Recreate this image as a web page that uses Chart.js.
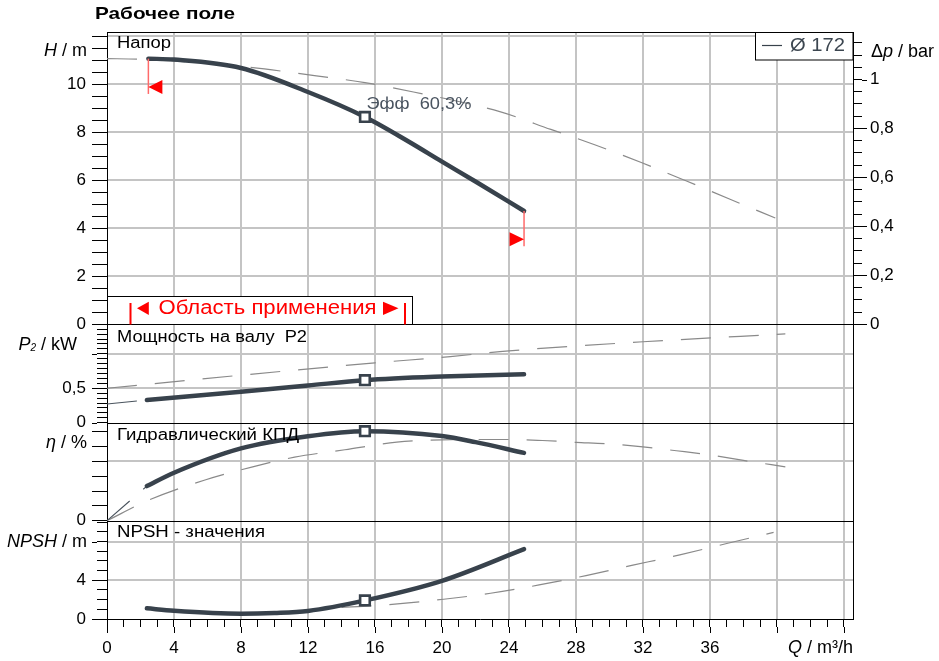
<!DOCTYPE html>
<html lang="ru">
<head>
<meta charset="utf-8">
<title>Рабочее поле – Ø 172</title>
<script src="https://cdn.jsdelivr.net/npm/chart.js"></script>
<style>
  html,body{margin:0;padding:0;background:#fff;overflow:hidden;}
  canvas{display:block;}
</style>
</head>
<body>
<canvas id="pump" width="939" height="661"></canvas>
<script>
/* ── 1. Curve data (Q in m³/h) ────────────────────────────────── */
const headQ    = [2.47, 4, 8, 12, 15.4, 18, 20, 22, 24.9];
const headH    = [11.07, 11.03, 10.68, 9.68, 8.64, 7.62, 6.78, 5.95, 4.72];
const headRefQ = [0, 1.8, 8, 12.5, 15.4, 18.3, 23.5, 26.5, 29.2, 31.9, 34.6, 37.2, 39.9];
const headRefH = [11.07, 11.05, 10.75, 10.35, 10.07, 9.68, 8.85, 8.12, 7.46, 6.74, 5.97, 5.21, 4.43];

const powerQ    = [2.38, 8, 12, 15.4, 20, 24.9];
const powerP    = [0.33, 0.45, 0.54, 0.617, 0.67, 0.704];
const powerExtQ = [0, 2.38];
const powerExtP = [0.272, 0.33];
const powerRefQ = [0, 8, 16, 20.5, 24, 32, 40.5];
const powerRefP = [0.5, 0.69, 0.869, 0.96, 1.043, 1.175, 1.29];

const effQ    = [2.38, 4, 8, 12, 15.4, 20, 22, 24.9];
const effE    = [23.3, 32.3, 48.7, 56.9, 60.3, 57.0, 52.9, 45.7];
const effExtQ = [0, 2.38];
const effExtE = [0, 23.3];
const effRefQ = [0, 2.5, 5.85, 8.64, 11.2, 14.2, 17.3, 20, 22, 24, 26, 28, 30, 32, 34, 36, 38, 40.5];
const effRefE = [0, 13.9, 27.4, 36.1, 42.8, 47.8, 52.9, 54.5, 54.7, 54.7, 54.0, 52.8, 51.7, 49.7, 47.1, 44.3, 40.6, 36.3];

const npshQ    = [2.38, 4, 8, 10, 12, 15.4, 20, 24.9];
const npshN    = [1.1, 0.85, 0.55, 0.62, 0.83, 1.92, 3.95, 7.22];
const npshRefQ = [14, 15.8, 20.1, 22.9, 25.8, 28.6, 31.4, 34.2, 37, 39.8];
const npshRefN = [1.2, 1.35, 2.04, 2.66, 3.52, 4.49, 5.56, 6.63, 7.8, 8.95];

// duty point and application limits
const bepQ = 15.4;
const bepH = 8.64, bepP = 0.617, bepE = 60.3, bepN = 1.92;
const bepLabel  = 'Эфф  60,3%';
const limitQ    = [2.47, 24.9];
const limitTopH = [11.07, 4.72];
const limitTipH = [9.89, 3.54];

// tick labels and grid lines
const qTickLabels  = [0, 4, 8, 12, 16, 20, 24, 28, 32, 36];
const qGrid        = [4, 8, 12, 16, 20, 24, 28, 32, 36, 40, 44];
const hTickLabels  = [0, 2, 4, 6, 8, 10];
const hGrid        = [2, 4, 6, 8, 10, 12];
const pTickLabels  = [0, 0.5];
const pGrid        = [0.5, 1];
const eTickLabels  = [0];
const eGrid        = [40];
const nTickLabels  = [0, 4];
const nGrid        = [4, 8];
const dpTickLabels = [0, 0.2, 0.4, 0.6, 0.8, 1];

/* ── 2. Axis ranges / panel heights ──────────────────────────── */
const Q_MAX = 44.54;
const H_MAX = 12.18, P_MAX = 1.4286, E_MAX = 66, N_MAX = 10.16;
const panelPx = [292.3, 98.4, 98, 98.3];      // H, P2, eta, NPSH
const R_MAX = H_MAX / 10.2;                   // Δp in bar
const R_MIN = -R_MAX * (panelPx[1] + panelPx[2] + panelPx[3]) / panelPx[0];

const DARK = '#38424c', REF = '#8a8a8a', RED = '#ff0000', GRID = '#c4c4c4';
const FONT = '"Liberation Sans", Arial, sans-serif';
Chart.defaults.font.family = FONT;
Chart.defaults.font.size = 17;
Chart.defaults.color = '#000';

function range(a, b, step){
  const out = [];
  for(let i = 0; a + i*step <= b + 1e-9; i++) out.push(+(a + i*step).toFixed(4));
  return out;
}
const near = (list, v) => list.some(l => Math.abs(l - v) < 1e-3);
const fmt  = v => String(+v.toFixed(2)).replace('.', ',');
const pts  = (xs, ys) => xs.map((x, i) => ({x, y: ys[i]}));

/* ── 3. Datasets ─────────────────────────────────────────────── */
function solid(xs, ys, axis){
  return {data: pts(xs, ys), yAxisID: axis, borderColor: DARK, borderWidth: 4.5,
    borderCapStyle: 'round', borderJoinStyle: 'round', pointRadius: 0,
    cubicInterpolationMode: 'monotone', order: 1};
}
function ext(xs, ys, axis){
  return {data: pts(xs, ys), yAxisID: axis, borderColor: '#4a545e', borderWidth: 1.1,
    borderDash: [30, 18], pointRadius: 0, order: 2};
}
function ref(xs, ys, axis){
  return {data: pts(xs, ys), yAxisID: axis, borderColor: REF, borderWidth: 1.2,
    borderDash: [30, 18], pointRadius: 0, cubicInterpolationMode: 'monotone', order: 3};
}
function bep(y, axis){
  return {data: [{x: bepQ, y}], yAxisID: axis, showLine: false, pointStyle: 'rect',
    pointRadius: 6.8, pointBorderWidth: 2.6, pointBackgroundColor: '#fff',
    pointBorderColor: DARK, order: 0};
}

const datasets = [
  bep(bepH, 'yH'), bep(bepP, 'yP'), bep(bepE, 'yE'), bep(bepN, 'yN'),
  solid(headQ, headH, 'yH'), solid(powerQ, powerP, 'yP'),
  solid(effQ, effE, 'yE'), solid(npshQ, npshN, 'yN'),
  ext(powerExtQ, powerExtP, 'yP'), ext(effExtQ, effExtE, 'yE'),
  ref(headRefQ, headRefH, 'yH'), ref(powerRefQ, powerRefP, 'yP'),
  ref(effRefQ, effRefE, 'yE'), ref(npshRefQ, npshRefN, 'yN')
];

/* ── 4. Axes ─────────────────────────────────────────────────── */
function leftAxis(o){
  return {
    type: 'linear', position: 'left', stack: 'panels', stackWeight: o.px, weight: o.w,
    min: 0, max: o.max,
    afterBuildTicks: s => { s.ticks = o.ticks.map(v => ({value: v})); },
    afterFit: s => { s.width = 107; },
    ticks: {autoSkip: false, padding: o.pad, color: '#000',
      callback: v => near(o.labels, v) ? fmt(v) : ''},
    grid: {drawOnChartArea: false, tickLength: o.tick, tickColor: '#000', tickWidth: 1},
    border: {color: '#000', width: 1}
  };
}

const scales = {
  x: {
    type: 'linear', position: 'bottom', min: 0, max: Q_MAX,
    afterBuildTicks: s => { s.ticks = range(0, 44, 1).map(v => ({value: v})); },
    afterFit: s => { s.height = 42; },
    ticks: {autoSkip: false, maxRotation: 0, padding: 11, color: '#000',
      callback: v => qTickLabels.includes(v) ? String(v) : ''},
    grid: {drawOnChartArea: false, tickLength: 8, tickColor: '#000', tickWidth: 1},
    border: {color: '#000', width: 1}
  },
  yH: leftAxis({px: panelPx[0], w: 4, max: H_MAX, ticks: range(0, 12, 0.5),
    labels: hTickLabels, tick: 15, pad: 6}),
  yP: leftAxis({px: panelPx[1], w: 3, max: P_MAX, ticks: range(0, P_MAX, 0.5/7),
    labels: pTickLabels, tick: 10, pad: 11}),
  yE: leftAxis({px: panelPx[2], w: 2, max: E_MAX, ticks: range(0, 60, 10),
    labels: eTickLabels, tick: 15, pad: 6}),
  yN: leftAxis({px: panelPx[3], w: 1, max: N_MAX, ticks: range(0, 10, 1),
    labels: nTickLabels, tick: 10, pad: 11}),
  yR: {
    type: 'linear', position: 'right', min: R_MIN, max: R_MAX,
    afterBuildTicks: s => { s.ticks = range(0, 1.15, 0.05).map(v => ({value: v})); },
    afterFit: s => { s.width = 86; },
    ticks: {autoSkip: false, padding: 8, color: '#000',
      callback: v => near(dpTickLabels, v) ? fmt(v) : ''},
    grid: {drawOnChartArea: false, tickLength: 9, tickColor: '#000', tickWidth: 1},
    border: {color: '#000', width: 1}
  }
};
const panelGrid = [['yH', hGrid], ['yP', pGrid], ['yE', eGrid], ['yN', nGrid]];

/* ── 5. Text helpers ─────────────────────────────────────────── */
function text(ctx, s, x, y, o){
  ctx.save();
  ctx.font = o.font; ctx.fillStyle = o.color || '#000';
  ctx.textBaseline = 'middle'; ctx.textAlign = 'left';
  const w = ctx.measureText(s).width;
  const sx = o.width ? o.width / w : 1;
  ctx.translate(o.align === 'right' ? x - w*sx : x, y);
  ctx.scale(sx, 1);
  ctx.fillText(s, 0, 0);
  ctx.restore();
}
function rich(ctx, parts, x, y, align){      // parts: [text, font, dy]
  ctx.save();
  ctx.textBaseline = 'middle'; ctx.fillStyle = '#000';
  let total = 0;
  parts.forEach(p => { ctx.font = p[1]; total += ctx.measureText(p[0]).width; });
  let cx = align === 'right' ? x - total : x;
  parts.forEach(p => {
    ctx.font = p[1]; ctx.fillText(p[0], cx, y + (p[2] || 0));
    cx += ctx.measureText(p[0]).width;
  });
  ctx.restore();
}
function tri(ctx, tipX, tipY, dx, half){
  ctx.beginPath();
  ctx.moveTo(tipX, tipY);
  ctx.lineTo(tipX + dx, tipY - half);
  ctx.lineTo(tipX + dx, tipY + half);
  ctx.closePath(); ctx.fill();
}
const N = '18px ' + FONT, I = 'italic 18px ' + FONT;

/* ── 6. Sheet decorations (grid, frame, labels, limits) ─────── */
const sheet = {
  id: 'sheet',
  beforeDatasetsDraw(chart){
    // vertical grid under the curves
    const {ctx, chartArea: ca} = chart;
    ctx.save();
    ctx.fillStyle = GRID;
    qGrid.forEach(v => {
      const x = Math.round(chart.scales.x.getPixelForValue(v));
      ctx.fillRect(x - 1, ca.top, 2, ca.bottom - ca.top);
    });
    ctx.restore();
  },
  afterDraw(chart){
    const {ctx, chartArea: ca} = chart;
    const sc = chart.scales, xs = sc.x;
    const px = v => Math.round(xs.getPixelForValue(v)) + 0.5;

    ctx.save();
    // horizontal grid, slipped underneath what is already painted
    ctx.globalCompositeOperation = 'destination-over';
    ctx.fillStyle = GRID;
    panelGrid.forEach(([id, vals]) => {
      const s = sc[id];
      vals.forEach(v => {
        const y = Math.round(s.getPixelForValue(v));
        ctx.fillRect(ca.left, y - 1, ca.right - ca.left, 2);
      });
    });
    ctx.globalCompositeOperation = 'source-over';

    // frame + panel separators
    ctx.strokeStyle = '#000'; ctx.lineWidth = 1;
    ctx.beginPath();
    [ca.top, sc.yH.bottom, sc.yP.bottom, sc.yE.bottom].forEach(y => {
      const yy = Math.round(y) + 0.5;
      ctx.moveTo(ca.left, yy); ctx.lineTo(ca.right, yy);
    });
    // longer major ticks
    range(0, 44, 4).forEach(v => { const x = px(v); ctx.moveTo(x, ca.bottom + 8); ctx.lineTo(x, ca.bottom + 14); });
    dpTickLabels.forEach(v => { const y = Math.round(sc.yR.getPixelForValue(v)) + 0.5; ctx.moveTo(ca.right + 9, y); ctx.lineTo(ca.right + 14, y); });
    [[sc.yP, [0, 0.5, 1]], [sc.yN, [0, 4, 8]]].forEach(([s, vals]) => vals.forEach(v => {
      const y = Math.round(s.getPixelForValue(v)) + 0.5;
      ctx.moveTo(ca.left - 10, y); ctx.lineTo(ca.left - 15, y);
    }));
    ctx.stroke();

    // application limits (red)
    limitQ.forEach((q, i) => {
      const x = xs.getPixelForValue(q);
      const yTop = sc.yH.getPixelForValue(limitTopH[i]);
      const yTip = sc.yH.getPixelForValue(limitTipH[i]);
      ctx.strokeStyle = '#ff6a6a'; ctx.lineWidth = 1.5;
      ctx.beginPath(); ctx.moveTo(x, yTop); ctx.lineTo(x, yTip + 7); ctx.stroke();
      ctx.fillStyle = RED;
      tri(ctx, x, yTip, i === 0 ? 14 : -14.5, 7);
    });

    // application range box
    const bx = ca.left + 0.5, bTop = 296.5, bBot = Math.round(sc.yH.bottom) + 0.5, bw = 305;
    ctx.fillStyle = '#fff'; ctx.fillRect(bx, bTop, bw, bBot - bTop);
    ctx.strokeStyle = '#000'; ctx.lineWidth = 1;
    ctx.strokeRect(bx, bTop, bw, bBot - bTop);
    ctx.fillStyle = RED;
    ctx.fillRect(bx + 22, bTop + 6.5, 2, bBot - bTop - 6.5);
    ctx.fillRect(bx + 296.5, bTop + 6.5, 2, bBot - bTop - 6.5);
    tri(ctx, bx + 29.5, bTop + 11.8, 11.8, 6.6);
    tri(ctx, bx + 291, bTop + 11.8, -15.5, 6.6);
    text(ctx, 'Область применения', bx + 51, bTop + 12, {font: '20px ' + FONT, color: RED, width: 218});

    // legend box
    ctx.fillStyle = '#fff'; ctx.fillRect(755.5, ca.top + 0.5, ca.right - 755.5, 27.5);
    ctx.strokeStyle = '#000'; ctx.strokeRect(755.5, ca.top + 0.5, ca.right - 755.5, 27.5);
    ctx.strokeStyle = DARK; ctx.lineWidth = 1.2;
    ctx.beginPath(); ctx.moveTo(762, ca.top + 13.5); ctx.lineTo(782, ca.top + 13.5); ctx.stroke();
    text(ctx, 'Ø 172', 790, ca.top + 13.5, {font: '19px ' + FONT, color: '#3c4650', width: 55});

    // duty point label
    text(ctx, bepLabel, xs.getPixelForValue(bepQ) + 1.5, sc.yH.getPixelForValue(bepH) - 12.7,
      {font: '17px ' + FONT, color: '#4a5460', width: 105});

    // title
    text(ctx, 'Рабочее поле', 95, 14, {font: 'bold 17px ' + FONT, width: 140});

    // panel labels
    text(ctx, 'Напор', 117, sc.yH.top + 12, {font: '16px ' + FONT, width: 54});
    text(ctx, 'Мощность на валу  P2', 117, sc.yP.top + 13, {font: '16px ' + FONT, width: 190});
    text(ctx, 'Гидравлический КПД', 117, sc.yE.top + 12.5, {font: '16px ' + FONT, width: 182});
    text(ctx, 'NPSH - значения', 117, sc.yN.top + 12, {font: '16px ' + FONT, width: 148});

    // axis titles
    rich(ctx, [['H', I], [' / m', N]], 87, 51, 'right');
    rich(ctx, [['P', I], ['2', 'italic 10px ' + FONT, 3], [' / kW', N]], 77, 345, 'right');
    rich(ctx, [['η', I], [' / %', N]], 87, 443, 'right');
    rich(ctx, [['NPSH', I], [' / m', N]], 87, 541.7, 'right');
    rich(ctx, [['Δ', N], ['p', I], [' / bar', N]], 871, 51.7);
    rich(ctx, [['Q', I], [' / m³/h', N]], 853, 647.7, 'right');
    ctx.restore();
  }
};

/* ── 7. Chart ────────────────────────────────────────────────── */
new Chart(document.getElementById('pump'), {
  type: 'line',
  data: {datasets},
  options: {
    responsive: false, animation: false, devicePixelRatio: 1,
    layout: {padding: {top: 32, left: 0, right: 0, bottom: 0}},
    plugins: {legend: {display: false}, tooltip: {enabled: false}, title: {display: false}},
    scales
  },
  plugins: [sheet]
});
</script>
</body>
</html>
